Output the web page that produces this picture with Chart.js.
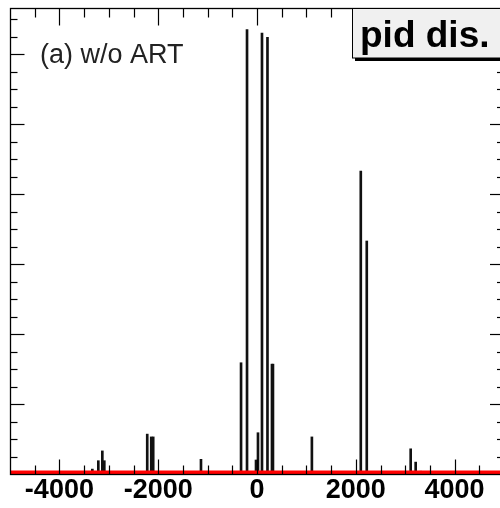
<!DOCTYPE html>
<html lang="en">
<head>
<meta charset="UTF-8" />
<title>pid dis.</title>
<script src="https://cdn.jsdelivr.net/npm/chart.js@4"></script>
<style>
  html, body { margin: 0; padding: 0; background: #fff; }
  #wrap { width: 500px; height: 508px; position: relative; }
</style>
</head>
<body>
<div id="wrap"><canvas id="myChart"></canvas></div>
<script>
  // spike positions (pid) and their counts
  const pidValues = [-3333, -3212, -3131, -3091, -2222, -2141, -2101, -1134, -20, -323, -202, 20, 101, 212, 303, 323, 1111, 2101, 2222, 3111, 3212, 3313];
  const counts    = [7, 19, 33, 19, 57, 53, 53, 21, 20, 159, 635, 59, 630, 624, 157, 157, 53, 433, 333, 36, 17, 4];

  const xTickLabels = [-4000, -2000, 0, 2000, 4000];
  const panelLabel = '(a) w/o ART';
  const titleText = 'pid dis.';

  const xMin = -5000, xFrameMax = 5000, xShownMax = 4919;
  const yMax = 666;

  const FONT = '"Liberation Sans", Arial, Helvetica, sans-serif';

  // ROOT style frame with inward ticks, panel label and title box
  const framePlugin = {
    id: 'frame',
    afterDraw(chart) {
      const ctx = chart.ctx;
      const x = chart.scales.x, y = chart.scales.y;
      const left = Math.round(x.getPixelForValue(xMin)) + 0.5;
      const right = x.getPixelForValue(xFrameMax);
      const top = Math.round(y.getPixelForValue(yMax)) + 0.5;
      const bottom = Math.round(y.getPixelForValue(0)) + 0.5;

      function line(x1, y1, x2, y2) {
        ctx.beginPath(); ctx.moveTo(x1, y1); ctx.lineTo(x2, y2); ctx.stroke();
      }

      ctx.save();
      ctx.strokeStyle = '#000';
      ctx.lineWidth = 1.3;
      ctx.strokeRect(left, top, right - left, bottom - top);

      ctx.lineWidth = 1.2;
      for (let v = -4500; v <= 4500; v += 500) {
        const px = Math.round(x.getPixelForValue(v)) + 0.5;
        const major = v % 2000 === 0;
        line(px, bottom, px, bottom - (major ? 15 : 9));
        line(px, top, px, top + (major ? 17 : 9));
      }
      for (let v = 25; v < yMax; v += 25) {
        const py = Math.round(y.getPixelForValue(v)) + 0.5;
        const major = v % 100 === 0;
        line(left, py, left + (major ? 14 : 7), py);
        line(right, py, right - (major ? 14 : 7), py);
      }

      // panel label
      ctx.fillStyle = '#222';
      ctx.font = '27px ' + FONT;
      ctx.textBaseline = 'alphabetic';
      ctx.textAlign = 'left';
      ctx.fillText(panelLabel, 40, 63);

      // title box with shadow
      ctx.fillStyle = '#000';
      ctx.fillRect(355, 58, 160, 3);
      ctx.fillStyle = '#f0f0f0';
      ctx.fillRect(352.5, top, 160, 58 - top);
      ctx.lineWidth = 1;
      ctx.strokeRect(352.5, top, 160, 58 - top);
      ctx.fillStyle = '#000';
      ctx.font = 'bold 37px ' + FONT;
      ctx.fillText(titleText, 360, 47);
      ctx.restore();
    }
  };

  const ctx = document.getElementById('myChart').getContext('2d');
  const myChart = new Chart(ctx, {
    type: 'bar',
    data: {
      datasets: [
        {
          type: 'line',
          label: 'baseline',
          data: [{ x: xMin, y: 0 }, { x: xFrameMax, y: 0 }],
          borderColor: '#ff0000',
          borderWidth: 7,
          pointRadius: 0,
          order: 0
        },
        {
          label: 'pid',
          data: pidValues.map((v, i) => ({ x: v, y: counts[i] })),
          backgroundColor: '#111',
          borderWidth: 0,
          barThickness: 2,
          order: 1
        }
      ]
    },
    options: {
      responsive: true,
      maintainAspectRatio: false,
      animation: false,
      layout: { padding: { left: 10, top: 8, right: 0, bottom: 0 } },
      plugins: { legend: { display: false }, tooltip: { enabled: false } },
      scales: {
        x: {
          type: 'linear',
          min: xMin,
          max: xShownMax,
          offset: false,
          grid: { display: false, drawTicks: false },
          border: { display: false },
          afterBuildTicks(scale) {
            scale.ticks = xTickLabels.map(v => ({ value: v }));
          },
          afterFit(scale) {
            scale.height = 34;
          },
          ticks: {
            padding: 3,
            color: '#000',
            font: { family: FONT, size: 27, weight: 'bold', lineHeight: 1 },
            maxRotation: 0,
            autoSkip: false,
            callback: v => String(v)
          }
        },
        y: {
          display: false,
          min: 0,
          max: yMax
        }
      }
    },
    plugins: [framePlugin]
  });
</script>
</body>
</html>
